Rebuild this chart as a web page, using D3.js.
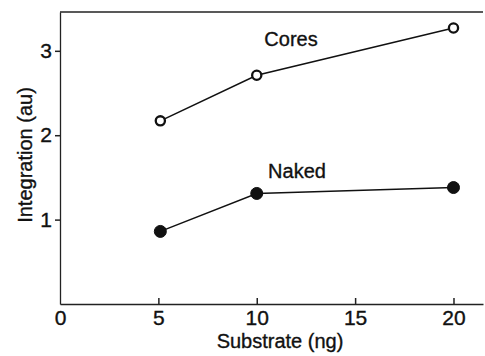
<!DOCTYPE html>
<html>
<head>
<meta charset="utf-8">
<script src="https://cdn.jsdelivr.net/npm/d3@7"></script>
<style>
  body { margin: 0; background: #fff; }
  svg text { font-family: "Liberation Sans", Arial, sans-serif; fill: #111; stroke: #111; stroke-width: 0.35px; }
</style>
</head>
<body>
<svg id="chart"></svg>
<script>
// data
var substrate = [5.1, 10, 20];
var cores = [2.17, 2.71, 3.27];
var naked = [0.86, 1.31, 1.38];
var xTicks = [0, 5, 10, 15, 20];
var yTicks = [1, 2, 3];

var width = 485, height = 356;
var fontSize = "20px";
var tickFont = "21px";
var svg = d3.select("#chart").attr("width", width).attr("height", height);

var x = d3.scaleLinear().domain([0, 21.5]).range([60, 483]);
var y = d3.scaleLinear().domain([0, 3.46]).range([304, 12]);

// top frame line
svg.append("line")
    .attr("x1", x(0)).attr("x2", x(21.5))
    .attr("y1", y(3.46)).attr("y2", y(3.46))
    .attr("stroke", "#222").attr("stroke-width", 1.3);

// X axis, ticks pointing up
var xAxis = svg.append("g")
    .attr("transform", "translate(0," + y(0) + ")")
    .call(d3.axisBottom(x).tickValues(xTicks).tickFormat(d3.format("d"))
        .tickSizeInner(-6).tickSizeOuter(0).tickPadding(6));
xAxis.select(".domain").attr("stroke", "#222").attr("stroke-width", 1.3);
xAxis.selectAll(".tick line").attr("stroke", "#222").attr("stroke-width", 1.5);
xAxis.selectAll(".tick line").filter(function(d) { return d === 0; }).remove();
xAxis.selectAll("text").style("font-size", tickFont).attr("fill", "#111");

// Y axis, ticks pointing out
var yAxis = svg.append("g")
    .attr("transform", "translate(" + x(0) + ",0)")
    .call(d3.axisLeft(y).tickValues(yTicks).tickFormat(d3.format("d"))
        .tickSizeInner(5).tickSizeOuter(0).tickPadding(3));
yAxis.select(".domain").attr("stroke", "#222").attr("stroke-width", 1.3);
yAxis.selectAll(".tick line").attr("stroke", "#222").attr("stroke-width", 1.5);
yAxis.selectAll("text").style("font-size", tickFont).attr("fill", "#111");

// axis titles
svg.append("text")
    .attr("x", 280).attr("y", 348)
    .attr("text-anchor", "middle")
    .style("font-size", fontSize)
    .text("Substrate (ng)");

svg.append("text")
    .attr("transform", "translate(32,155) rotate(-90)")
    .attr("text-anchor", "middle")
    .style("font-size", fontSize)
    .text("Integration (au)");

var line = d3.line()
    .x(function(d, i) { return x(substrate[i]); })
    .y(function(d) { return y(d); });

function drawSeries(values, filled) {
    svg.append("path")
        .datum(values)
        .attr("d", line)
        .attr("fill", "none")
        .attr("stroke", "#111")
        .attr("stroke-width", 1.5);
    svg.selectAll(null)
        .data(values)
        .join("circle")
        .attr("cx", function(d, i) { return x(substrate[i]); })
        .attr("cy", function(d) { return y(d); })
        .attr("r", filled ? 6 : 4.6)
        .attr("fill", filled ? "#111" : "#fff")
        .attr("stroke", "#111")
        .attr("stroke-width", filled ? 1 : 2.3);
}

drawSeries(cores, false);
drawSeries(naked, true);

// series labels
svg.append("text")
    .attr("x", 291).attr("y", 46)
    .attr("text-anchor", "middle")
    .style("font-size", fontSize)
    .text("Cores");

svg.append("text")
    .attr("x", 297).attr("y", 178)
    .attr("text-anchor", "middle")
    .style("font-size", fontSize)
    .text("Naked");
</script>
</body>
</html>
